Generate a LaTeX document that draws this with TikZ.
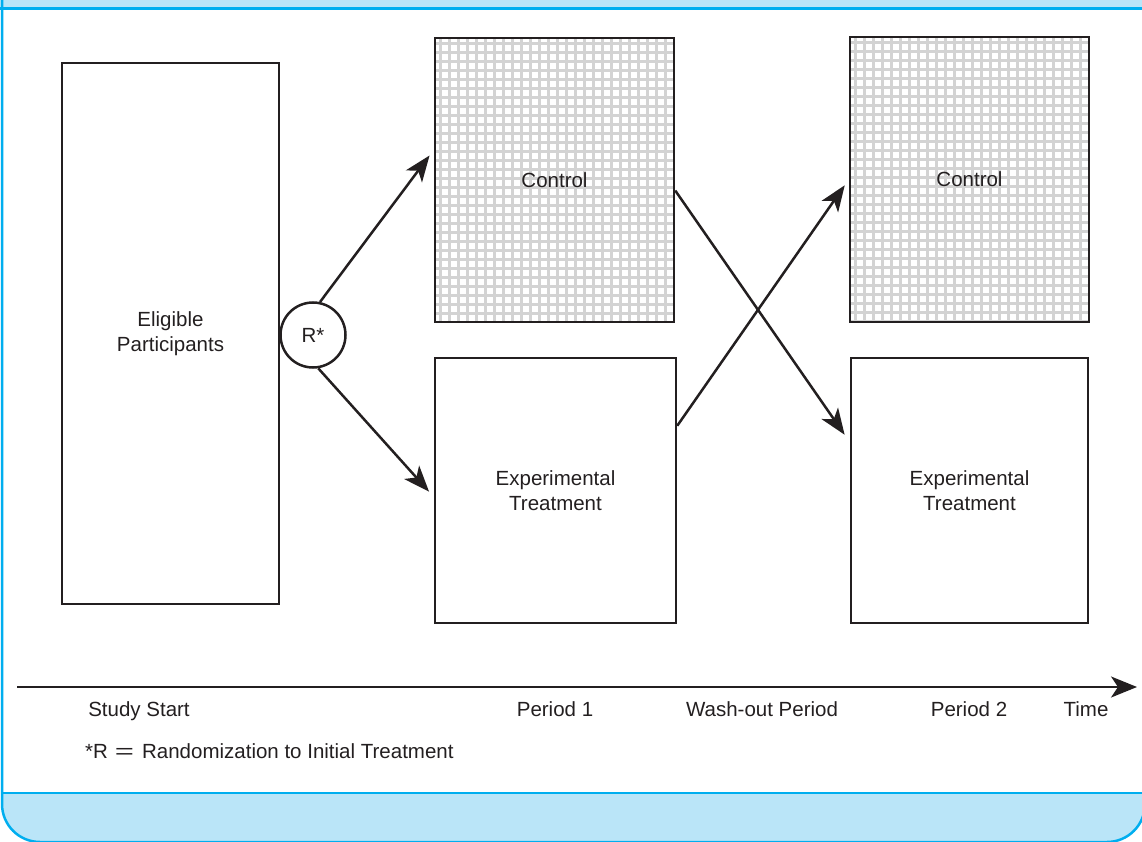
\documentclass[tikz,border=0pt]{standalone}
\usepackage{fontspec}
\setmainfont{Liberation Sans}
\usetikzlibrary{arrows.meta}

\definecolor{frameblue}{HTML}{00AEEF}
\definecolor{bandblue}{HTML}{BAE5F8}
\definecolor{ink}{HTML}{231F20}
\definecolor{gridgray}{HTML}{D3D3D3}

\begin{document}
\begin{tikzpicture}[x=1pt, y=-1pt, font=\fontsize{20.5}{25.5}\selectfont, text=ink,
		box/.style={draw=ink, line width=2.5pt, inner sep=0pt, align=center},
		checked/.style={path picture={\draw[gridgray, line width=3pt, step=9pt] (path picture bounding box.south west) grid (path picture bounding box.north east);}},
		arr/.style={draw=ink, line width=2.5pt, -{Stealth[length=26pt, width=20pt, inset=7pt]}},
		axis/.style={draw=ink, line width=2.5pt, -{Stealth[length=26pt, width=21pt, inset=7pt]}}]
			\useasboundingbox (0,0) rectangle (1142,842);
		
			% frame
			\fill[bandblue] (0,0) rectangle (1142,8.5);
			\begin{scope}
				\clip (0,793) rectangle (1142,842);
				\fill[bandblue, rounded corners=38] (2,700) rectangle (1145,842);
			\end{scope}
			\draw[frameblue, line width=2.5pt] (0,8.5) -- (1142,8.5);
			\draw[frameblue, line width=2.5pt] (2,793) -- (1142,793);
			\draw[frameblue, line width=2.5pt, rounded corners=38] (2,0) -- (2,842) -- (1145,842) -- (1145,0);
		
			\node[box, minimum width=217, minimum height=541] (elig) at (170.5,333.5) {Eligible\\Participants};
			\node[draw=ink, circle, line width=2.5pt, minimum size=65, inner sep=0pt] (r) at (313,335) {R*};
	        
			\node[box, checked, minimum width=239, minimum height=284] (ctrl1) at (554.5,180) {Control};
			\node[box, minimum width=241, minimum height=265] (exp1) at (555.5,490.5) {Experimental\\Treatment};
	
			\node[box, checked, minimum width=239, minimum height=285] (ctrl2) at (969.5,179.5) {Control};
			\node[box, minimum width=237, minimum height=265] (exp2) at (969.5,490.5) {Experimental\\Treatment};
	
			\draw[arr, shorten >=7pt] (r.78) -- (ctrl1.166);
			\draw[arr, shorten >=7pt] (r.-81) -- (exp1.183);
			\draw[arr, shorten >=9pt] (ctrl1.-5) -- (exp2.158);
			\draw[arr, shorten >=7pt] (exp1.28) -- (ctrl2.180);
			
			% time line
			\coordinate (tstart) at (17,687);
			\coordinate (tend) at (1137,687);
			\draw[axis] (tstart) -- (tend);
			\foreach \x/\t [count=\i] in {139/Study Start, 555/Period 1, 762/Wash-out Period, 969/Period 2, 1086/Time} {
				\node[anchor=base, inner sep=0pt] (tick\i) at (\x,716) {\t};
			}
			\node[anchor=base west, inner sep=0pt] (note) at (85,758) {*R\hspace{7pt}\scalebox{1.6}[1]{=}\hspace{8pt}Randomization to Initial Treatment};
		\end{tikzpicture}
\end{document}
